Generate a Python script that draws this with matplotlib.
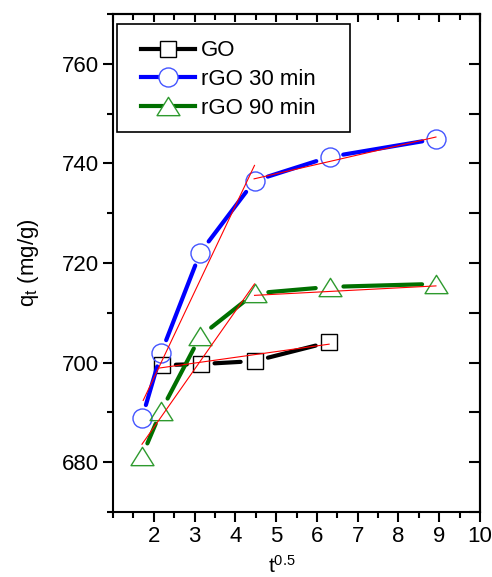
import matplotlib
matplotlib.use('Agg')
import matplotlib.pyplot as plt
from matplotlib.lines import Line2D
from matplotlib.patches import Rectangle
from matplotlib.path import Path
from matplotlib.ticker import MultipleLocator

plt.rcParams['font.family'] = ['Liberation Sans', 'DejaVu Sans']
plt.rcParams['mathtext.fontset'] = 'custom'
plt.rcParams['mathtext.rm'] = 'Liberation Sans'
plt.rcParams['mathtext.it'] = 'Liberation Sans'

# data (x = t^0.5, y = q_t in mg/g)
go_x = [2.2, 3.15, 4.47, 6.3]
go_y = [699.5, 699.7, 700.3, 704.1]
r30_x = [1.71, 2.18, 3.14, 4.47, 6.31, 8.92]
r30_y = [688.8, 701.9, 722.1, 736.5, 741.3, 744.9]
r90_x = [1.71, 2.18, 3.14, 4.47, 6.31, 8.92]
r90_y = [681.2, 690.3, 705.3, 713.9, 715.2, 715.8]

# red linear fits (start/end of each segment)
fit_go_x = [2.13, 6.3]
fit_go_y = [698.9, 703.7]
fit_r30a_x = [1.74, 4.47]
fit_r30a_y = [692.4, 739.6]
fit_r30b_x = [4.46, 8.92]
fit_r30b_y = [736.9, 745.3]
fit_r90a_x = [1.71, 4.47]
fit_r90a_y = [683.6, 715.8]
fit_r90b_x = [4.47, 8.92]
fit_r90b_y = [713.5, 715.4]

labels = ['GO', 'rGO 30 min', 'rGO 90 min']

# flattened open triangle
tri = Path([(-1, -0.8), (1, -0.8), (0, 0.8), (-1, -0.8)],
           [Path.MOVETO, Path.LINETO, Path.LINETO, Path.CLOSEPOLY])
series = [
    (go_x, go_y, 'black', 'black', 's', 12),
    (r30_x, r30_y, '#0000ff', '#4455ff', 'o', 13.7),
    (r90_x, r90_y, '#007000', '#2e9a2e', tri, 16.5),
]

fig = plt.figure(figsize=(4.92, 5.77), dpi=100)
ax = fig.add_axes([0.2297, 0.1127, 0.7459, 0.863])

for xs, ys, lc, mc, mk, ms in series:
    # connecting line with gaps around the markers
    for i in range(len(xs) - 1):
        ax.annotate('', xy=(xs[i + 1], ys[i + 1]), xytext=(xs[i], ys[i]),
                    arrowprops=dict(arrowstyle='-', color=lc, lw=3,
                                    shrinkA=10, shrinkB=10))
    ax.plot(xs, ys, linestyle='none', marker=mk, markersize=ms,
            markerfacecolor='none', markeredgecolor=mc, markeredgewidth=1.0,
            zorder=3)

for fx, fy in [(fit_go_x, fit_go_y), (fit_r30a_x, fit_r30a_y), (fit_r30b_x, fit_r30b_y),
               (fit_r90a_x, fit_r90a_y), (fit_r90b_x, fit_r90b_y)]:
    ax.plot(fx, fy, color='red', lw=0.8, zorder=4)

ax.set_xlim(1, 10)
ax.set_ylim(670, 770)
ax.xaxis.set_major_locator(MultipleLocator(1))
ax.xaxis.set_minor_locator(MultipleLocator(0.5))
ax.yaxis.set_major_locator(MultipleLocator(20))
ax.yaxis.set_minor_locator(MultipleLocator(10))
ax.set_xticks(range(2, 11))
ax.set_yticks([680, 700, 720, 740, 760])

for sp in ax.spines.values():
    sp.set_linewidth(1.5)
ax.tick_params(which='major', direction='out', length=7, width=1.5, labelsize=16, pad=3)
ax.tick_params(which='minor', direction='out', length=4, width=1.5)

# top / right ticks pointing inwards
top = ax.secondary_xaxis('top')
top.xaxis.set_major_locator(MultipleLocator(1))
top.xaxis.set_minor_locator(MultipleLocator(0.5))
top.tick_params(which='major', direction='in', length=6, width=1.5, labeltop=False)
top.tick_params(which='minor', direction='in', length=4, width=1.5)
right = ax.secondary_yaxis('right')
right.yaxis.set_major_locator(MultipleLocator(10))
right.tick_params(which='major', direction='in', length=8, width=1.5, labelright=False)
for s in (top, right):
    for sp in s.spines.values():
        sp.set_linewidth(1.5)

ax.set_ylabel(r'q$_\mathregular{t}$ (mg/g)', fontsize=16, labelpad=15)
ax.set_xlabel(r't$^\mathregular{0.5}$', fontsize=15, x=0.46, labelpad=6)

# legend frame and entries
ax.add_patch(Rectangle((0.011, 0.763), 0.635, 0.217, transform=ax.transAxes,
                       facecolor='white', edgecolor='black', lw=1.2, zorder=5))
handles = []
for xs, ys, lc, mc, mk, ms in series:
    handles.append(Line2D([], [], color=lc, lw=3, marker=mk, markersize=ms,
                          markerfacecolor='white', markeredgecolor=mc,
                          markeredgewidth=1.0))
leg = ax.legend(handles, labels, loc='upper left', bbox_to_anchor=(0.075, 0.947),
                frameon=False, fontsize=16, handlelength=2.45, handletextpad=0.25,
                labelspacing=0.35, borderpad=0, borderaxespad=0)
leg.set_zorder(6)

fig.savefig('out.png', dpi=100)
